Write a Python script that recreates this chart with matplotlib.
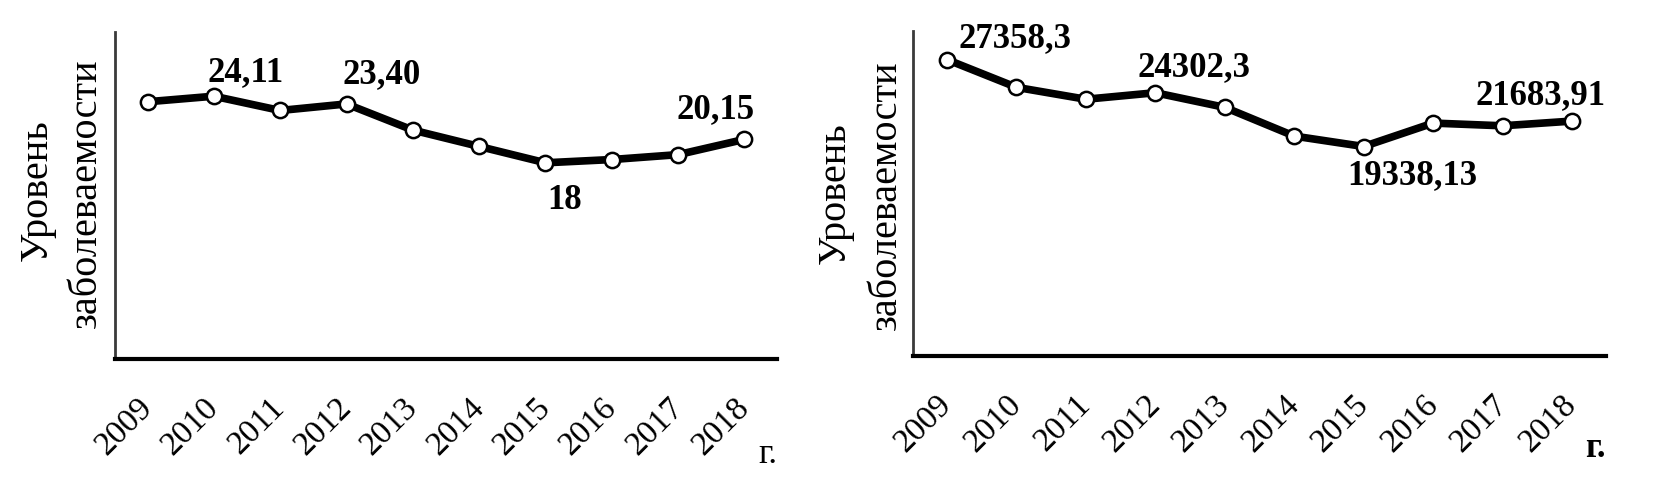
import matplotlib
matplotlib.use("Agg")
import matplotlib.pyplot as plt
from matplotlib.transforms import ScaledTranslation

years = ["2009", "2010", "2011", "2012", "2013", "2014", "2015", "2016", "2017", "2018"]
left_values = [23.6, 24.11, 22.8, 23.40, 21.0, 19.5, 18.0, 18.3, 18.75, 20.15]
right_values = [27358.3, 24800, 23700, 24302.3, 22950, 20300, 19338.13, 21500, 21250, 21683.91]

left_labels = {1: "24,11", 3: "23,40", 6: "18", 9: "20,15"}
right_labels = {0: "27358,3", 3: "24302,3", 6: "19338,13", 9: "21683,91"}

ylabel_line1 = "Уровень"
ylabel_line2 = "заболеваемости"
x_unit = "г."

SERIF = ["Liberation Serif", "DejaVu Serif"]
plt.rcParams["font.family"] = SERIF

W, H = 1654, 481
fig = plt.figure(figsize=(W / 100, H / 100), dpi=100)


def px_axes(x0, x1, ytop, ybot):
    return fig.add_axes([x0 / W, 1 - ybot / H, (x1 - x0) / W, (ybot - ytop) / H])


def style(ax, values, ymax, labels, offsets, unit_bold, ylab_pos, unit_y):
    x = list(range(len(values)))
    ax.plot(x, values, color="black", lw=5.5, marker="o", ms=11,
            mfc="white", mec="black", mew=1.8, solid_joinstyle="round", zorder=3)
    ax.set_xlim(-0.49, len(values) - 1 + 0.49)
    ax.set_ylim(0, ymax)
    for s in ("top", "right"):
        ax.spines[s].set_visible(False)
    ax.spines["bottom"].set_linewidth(3.0)
    ax.spines["bottom"].set_color("black")
    ax.spines["left"].set_linewidth(2.0)
    ax.spines["left"].set_color("#3a3a3a")
    ax.set_yticks([])
    ax.set_xticks(x)
    ax.set_xticklabels(years, rotation=45, ha="right", fontsize=24)
    ax.tick_params(axis="x", length=0, pad=23)
    shift = ScaledTranslation(0.11, 0, fig.dpi_scale_trans)
    for lab in ax.get_xticklabels():
        lab.set_transform(lab.get_transform() + shift)
    for i, txt in labels.items():
        dx, dy, ha, va = offsets[i]
        ax.annotate(txt, (x[i], values[i]), xytext=(dx, dy), textcoords="offset pixels",
                    ha=ha, va=va, fontsize=25, fontweight="bold", zorder=4)
    ax.text(ylab_pos[0], ylab_pos[1], ylabel_line1, transform=ax.transAxes, rotation=90,
            ha="center", va="center", fontsize=29)
    ax.text(ylab_pos[2], ylab_pos[3], ylabel_line2, transform=ax.transAxes, rotation=90,
            ha="center", va="center", fontsize=29)
    ax.text(1.0, unit_y, x_unit, transform=ax.transAxes, ha="right", va="baseline",
            fontsize=25, fontweight="bold" if unit_bold else "normal")


ax1 = px_axes(115, 777, 33, 360)
left_offsets = {1: (-6, 8, "left", "bottom"), 3: (-4, 14, "left", "bottom"),
                6: (2, -20, "left", "top"), 9: (10, 14, "right", "bottom")}
style(ax1, left_values, 30, left_labels, left_offsets, False,
      (-0.118, 0.52, -0.044, 0.51), -0.315)

ax2 = px_axes(913, 1606, 32, 357)
right_offsets = {0: (11, 6, "left", "bottom"), 3: (-18, 10, "left", "bottom"),
                 6: (-16, -12, "left", "top"), 9: (34, 10, "right", "bottom")}
style(ax2, right_values, 30000, right_labels, right_offsets, True,
      (-0.112, 0.505, -0.039, 0.498), -0.308)

fig.savefig("out.png", dpi=100, facecolor="white")
